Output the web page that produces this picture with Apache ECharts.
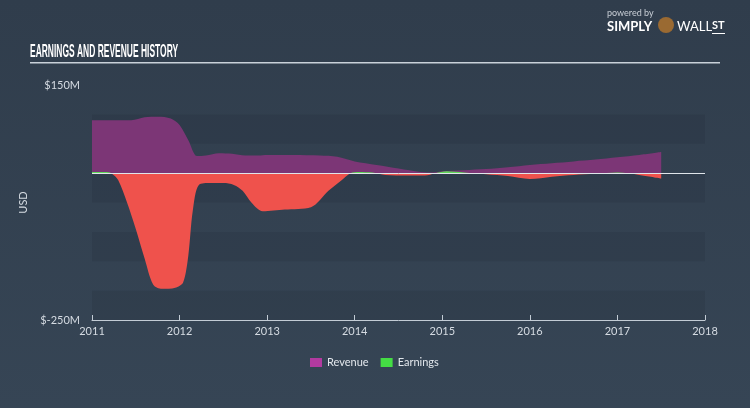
<!DOCTYPE html>
<html>
<head>
<meta charset="utf-8">
<script src="https://cdn.jsdelivr.net/npm/echarts@6/dist/echarts.min.js"></script>
<style>html,body{margin:0;padding:0;background:#344252;}#c{width:750px;height:408px;}</style>
</head>
<body>
<div id="c"></div>
<script>
// Decimal-year positions and values (USD millions)
const revenueYears = [2011.00, 2011.25, 2011.45, 2011.6, 2011.75, 2011.9, 2012.0, 2012.1, 2012.2, 2012.3, 2012.45, 2012.6, 2012.75, 2012.9, 2013.0, 2013.3, 2013.6, 2013.8, 2014.0, 2014.25, 2014.5, 2014.75, 2014.9, 2015.0, 2015.25, 2015.5, 2015.75, 2016.0, 2016.25, 2016.5, 2016.75, 2017.0, 2017.25, 2017.5];
const revenueValues = [90, 90, 90, 95, 96, 93, 82, 56, 29, 30, 34, 33, 30, 30, 31, 31, 30, 28, 20, 14, 8, 2, 1, 3, 5, 7, 10, 14, 17, 20, 23, 27, 31, 36];

const earningsYears = [2011.00, 2011.15, 2011.22, 2011.3, 2011.4, 2011.5, 2011.6, 2011.7, 2011.8, 2011.95, 2012.04, 2012.1, 2012.15, 2012.22, 2012.35, 2012.5, 2012.62, 2012.72, 2012.82, 2012.95, 2013.2, 2013.5, 2013.7, 2013.85, 2013.95, 2014.05, 2014.2, 2014.35, 2014.6, 2014.8, 2014.92, 2015.05, 2015.25, 2015.5, 2015.75, 2016.0, 2016.25, 2016.5, 2016.75, 2017.0, 2017.25, 2017.5];
const earningsValues = [2, 2, 0, -12, -50, -95, -145, -190, -197, -195, -186, -140, -65, -20, -17, -17, -20, -30, -50, -65, -62, -58, -30, -12, 0, 2, 1, -3, -4, -4, 0, 3, 1, -2, -5, -10, -6, -3, -1, 1, -3, -9];

const yearTicks = [2011, 2012, 2013, 2014, 2015, 2016, 2017, 2018];
const yMin = -250, yMax = 150;

const pair = (xs, ys) => xs.map((x, i) => [x, ys[i]]);

const chart = echarts.init(document.getElementById('c'), null, {renderer: 'canvas'});
const font = 'Lato, "Open Sans", sans-serif';

chart.setOption({
  backgroundColor: {
    type: 'linear', x: 0, y: 0, x2: 0, y2: 1,
    colorStops: [{offset: 0, color: '#303d4c'}, {offset: 1, color: '#364555'}]
  },
  animation: false,
  textStyle: {fontFamily: font},
  grid: {left: 92, right: 45, top: 85, bottom: 88},
  xAxis: {
    type: 'value', min: yearTicks[0], max: yearTicks[yearTicks.length - 1], interval: 1,
    axisLine: {show: true, onZero: false, lineStyle: {color: '#c3ccd5', width: 1}},
    axisTick: {show: true, inside: true, length: 5, lineStyle: {color: '#c3ccd5'}},
    axisLabel: {color: '#d5dbe2', fontSize: 11, margin: 6, formatter: v => String(v)},
    splitLine: {show: false}
  },
  yAxis: {
    type: 'value', min: yMin, max: yMax, interval: 50,
    name: 'USD', nameLocation: 'middle', nameGap: 40, nameRotate: 90,
    nameTextStyle: {color: '#d5dbe2', fontSize: 11},
    axisLine: {show: false}, axisTick: {show: false},
    axisLabel: {color: '#d5dbe2', fontSize: 11, margin: 12,
      formatter: v => (v === yMax || v === yMin) ? '$' + v + 'M' : ''},
    splitLine: {show: false},
    splitArea: {show: true, areaStyle: {color: ['rgba(30,40,52,0.16)', 'rgba(0,0,0,0)']}}
  },
  legend: {
    left: 305, top: 352, itemWidth: 12, itemHeight: 9, itemGap: 12, icon: 'rect',
    textStyle: {color: '#e2e7ec', fontSize: 11, fontFamily: font},
    data: ['Revenue', 'Earnings']
  },
  visualMap: {
    show: false, type: 'piecewise', seriesIndex: 1, dimension: 1,
    pieces: [{min: -1000, lt: 0, color: '#ef524c'}, {gte: 0, max: 1000, color: '#5fd95a'}],
    outOfRange: {color: '#ef524c'}
  },
  series: [
    {
      name: 'Revenue', type: 'line', data: pair(revenueYears, revenueValues),
      smooth: 0.3, showSymbol: false, symbol: 'none',
      itemStyle: {color: '#b23aa0'},
      lineStyle: {width: 0},
      areaStyle: {color: '#7c3676', opacity: 1},
      z: 2,
      markLine: {
        silent: true, symbol: 'none', label: {show: false},
        lineStyle: {color: '#dfe5ea', width: 1, type: 'solid'},
        data: [{yAxis: 0}]
      }
    },
    {
      name: 'Earnings', type: 'line', data: pair(earningsYears, earningsValues),
      smooth: 0.3, showSymbol: false, symbol: 'none',
      itemStyle: {color: '#44dd44'},
      lineStyle: {width: 0},
      areaStyle: {opacity: 1},
      z: 3
    }
  ],
  graphic: [
    {type: 'text', x: 30, y: 43, scaleX: 0.47, style: {text: 'EARNINGS AND REVENUE HISTORY', fill: '#ffffff',
      font: 'bold 18px "Liberation Sans", sans-serif'}},
    {type: 'rect', shape: {x: 30, y: 62, width: 690, height: 1.5}, style: {fill: '#c9d1d9'}},
    {type: 'text', left: 607, top: 9, style: {text: 'powered by', fill: '#c8ced6', font: '9px ' + font}},
    {type: 'text', left: 607, top: 20, style: {text: 'SIMPLY', fill: '#ffffff', font: 'bold 13px ' + font}},
    {type: 'circle', shape: {cx: 666, cy: 25, r: 8}, style: {fill: '#9a6a32'}},
    {type: 'text', left: 677, top: 20, style: {text: 'WALL', fill: '#ffffff', font: '13px ' + font}},
    {type: 'text', left: 712, top: 20, style: {text: 'ST', fill: '#ffffff', font: 'bold 11px ' + font}},
    {type: 'rect', shape: {x: 712, y: 33, width: 13, height: 1}, style: {fill: '#ffffff'}}
  ]
});
</script>
</body>
</html>
